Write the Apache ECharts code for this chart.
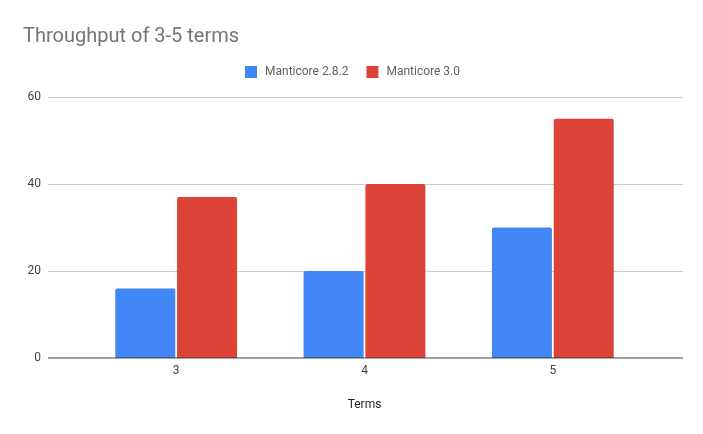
<!DOCTYPE html>
<html><head><meta charset="utf-8">
<script src="https://cdn.jsdelivr.net/npm/echarts@6/dist/echarts.min.js"></script>
<style>html,body{margin:0;padding:0;background:#fff}#c{width:703px;height:434px}</style>
</head><body><div id="c"></div>
<script>
const categories = ['3', '4', '5'];
const seriesNames = ['Manticore 2.8.2', 'Manticore 3.0'];
const manticore282 = [16, 20, 30];
const manticore30 = [37, 40, 55];
const yTicks = [0, 20, 40, 60];

const chart = echarts.init(document.getElementById('c'));
const font = 'Roboto, Arial, sans-serif';
chart.setOption({
  animation: false,
  title: { text: 'Throughput of 3-5 terms', left: 18, top: 22,
    textStyle: { fontFamily: font, fontSize: 20, fontWeight: 'normal', color: '#757575' } },
  legend: { top: 61, left: 240, itemWidth: 12, itemHeight: 12, itemGap: 18,
    icon: 'rect', data: seriesNames,
    textStyle: { fontFamily: font, fontSize: 12, color: '#616161', padding: [0, 0, 0, 3] } },
  grid: [
    { left: 48, right: 20, top: 97, bottom: 76 },
    { left: 82, right: 56, top: 97, bottom: 76 }
  ],
  xAxis: [
    { gridIndex: 0, type: 'value', min: 0, max: 1, show: true,
      axisLine: { show: false }, axisTick: { show: false }, axisLabel: { show: false }, splitLine: { show: false } },
    { gridIndex: 1, type: 'category', data: categories,
      name: 'Terms', nameLocation: 'middle', nameGap: 41,
      nameTextStyle: { fontFamily: font, fontSize: 12, color: '#222' },
      axisLine: { show: false }, axisTick: { show: false },
      axisLabel: { fontFamily: font, fontSize: 12, color: '#444', margin: 7 } }
  ],
  yAxis: [
    { gridIndex: 0, type: 'value', min: yTicks[0], max: yTicks[yTicks.length - 1], interval: 20,
      axisLine: { show: false }, axisTick: { show: false },
      axisLabel: { fontFamily: font, fontSize: 12, color: '#444', margin: 7 },
      splitLine: { lineStyle: { color: '#cccccc', width: 1 } } },
    { gridIndex: 1, type: 'value', min: yTicks[0], max: yTicks[yTicks.length - 1], interval: 20, show: false,
      splitLine: { show: false } }
  ],
  series: [
    { type: 'line', xAxisIndex: 0, yAxisIndex: 0, data: [[0, 0], [1, 0]], symbol: 'none',
      silent: true, lineStyle: { color: '#333', width: 1 }, z: 5, legendHoverLink: false },
    { name: seriesNames[0], type: 'bar', xAxisIndex: 1, yAxisIndex: 1, data: manticore282,
      barWidth: 60, barGap: '3%', itemStyle: { color: '#4285F4', borderRadius: [2, 2, 0, 0] } },
    { name: seriesNames[1], type: 'bar', xAxisIndex: 1, yAxisIndex: 1, data: manticore30,
      barWidth: 60, barGap: '3%', itemStyle: { color: '#DB4437', borderRadius: [2, 2, 0, 0] } }
  ]
});
</script></body></html>
